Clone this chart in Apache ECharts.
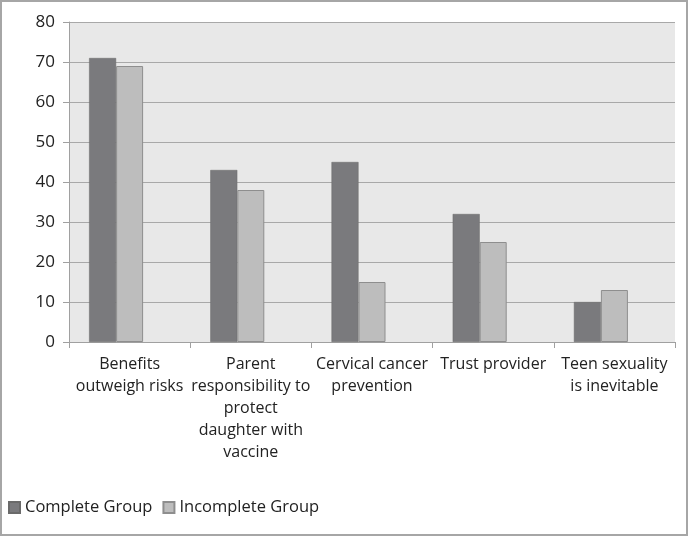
<!DOCTYPE html>
<html>
<head>
<meta charset="utf-8">
<script src="https://cdn.jsdelivr.net/npm/echarts@6/dist/echarts.min.js"></script>
<style>
  html, body { margin: 0; padding: 0; background: #fff; }
  #main { width: 684px; height: 532px; border: 2px solid #a6a6a6; }
</style>
</head>
<body>
<div id="main"></div>
<script>
// categories (wrapped as in the original)
const categories = [
    'Benefits\noutweigh risks',
    'Parent\nresponsibility to\nprotect\ndaughter with\nvaccine',
    'Cervical cancer\nprevention',
    'Trust provider',
    'Teen sexuality\nis inevitable'
];
const completeGroup = [71, 43, 45, 32, 10];
const incompleteGroup = [69, 38, 15, 25, 13];
const yTicks = { min: 0, max: 80, interval: 10 };

const chart = echarts.init(document.getElementById('main'));

chart.setOption({
    animation: false,
    backgroundColor: '#fff',
    textStyle: { fontFamily: '"Open Sans", sans-serif' },
    grid: { left: 67, right: 11, top: 20, bottom: 192, containLabel: false, show: true, backgroundColor: '#e8e8e8', borderWidth: 0 },
    legend: {
        left: 1, bottom: 13,
        icon: 'rect',
        itemWidth: 11, itemHeight: 11, itemGap: 10,
        textStyle: { fontSize: 16.5, color: '#222', fontFamily: '"Open Sans", sans-serif' },
        data: ['Complete Group', 'Incomplete Group']
    },
    xAxis: {
        type: 'category',
        data: categories,
        axisLine: { lineStyle: { color: '#a0a0a0' } },
        axisTick: { show: true, length: 6, lineStyle: { color: '#a0a0a0' } },
        axisLabel: { fontSize: 16, color: '#222', lineHeight: 22, margin: 11, interval: 0 }
    },
    yAxis: {
        type: 'value',
        min: yTicks.min, max: yTicks.max, interval: yTicks.interval,
        axisLine: { show: true, lineStyle: { color: '#a0a0a0' } },
        axisTick: { show: true, length: 6, inside: false, lineStyle: { color: '#a0a0a0' } },
        axisLabel: { fontSize: 17, color: '#222', margin: 14 },
        splitLine: { lineStyle: { color: '#a8a8a8' } }
    },
    series: [
        {
            name: 'Complete Group', type: 'bar', data: completeGroup,
            barWidth: 27, barGap: '0%',
            itemStyle: { color: '#7a7a7d', borderColor: '#6a6a6a', borderWidth: 0.5 }
        },
        {
            name: 'Incomplete Group', type: 'bar', data: incompleteGroup,
            barWidth: 27,
            itemStyle: { color: '#bdbdbd', borderColor: '#8e8e8e', borderWidth: 1 }
        },
        {
            // empty third slot in the original, keeps pairs left of centre
            name: '', type: 'bar', data: [], barWidth: 27
        }
    ]
});
</script>
</body>
</html>
